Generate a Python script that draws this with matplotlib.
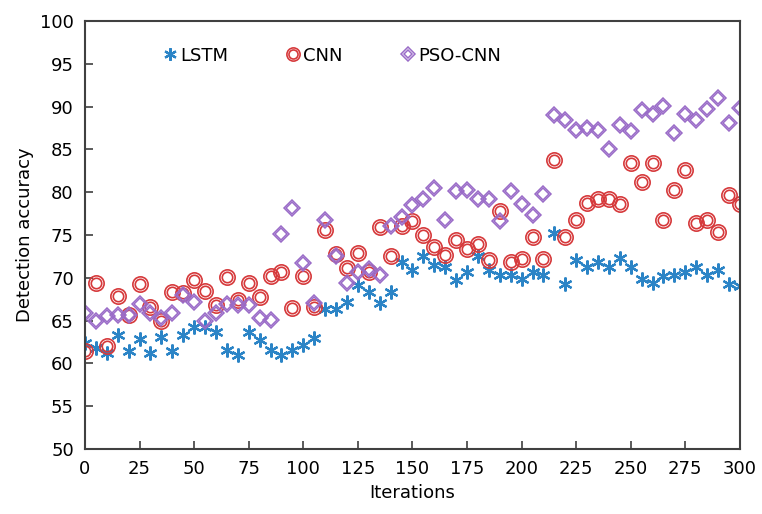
import numpy as np
import matplotlib
matplotlib.use("Agg")
from matplotlib import pyplot as plt
from matplotlib.lines import Line2D

iterations = np.arange(0, 301, 5)

lstm = [62.4, 61.8, 61.2, 63.3, 61.4, 62.9, 61.2, 63.1, 61.4, 63.3,
        64.3, 64.3, 63.7, 61.6, 61.0, 63.7, 62.7, 61.6, 61.0, 61.6,
        62.1, 63.0, 66.4, 66.4, 67.2, 69.2, 68.3, 67.0, 68.3, 71.9,
        70.9, 72.5, 71.5, 71.3, 69.7, 70.7, 72.5, 70.9, 70.3, 70.3,
        69.9, 70.7, 70.3, 75.2, 69.3, 72.1, 71.3, 71.8, 71.3, 72.3,
        71.3, 69.9, 69.4, 70.2, 70.3, 70.7, 71.3, 70.3, 70.9, 69.3,
        69.0]

cnn = [61.4, 69.4, 62.0, 67.9, 65.7, 69.3, 66.6, 65.0, 68.4, 68.2,
       69.8, 68.5, 66.8, 70.1, 67.4, 69.4, 67.8, 70.2, 70.7, 66.5,
       70.2, 66.6, 75.6, 72.8, 71.1, 72.9, 70.7, 75.9, 72.5, 76.0,
       76.6, 75.0, 73.6, 72.7, 74.4, 73.4, 74.0, 72.1, 77.8, 71.9,
       72.2, 74.8, 72.2, 83.8, 74.8, 76.8, 78.8, 79.2, 79.2, 78.6,
       83.4, 81.2, 83.4, 76.7, 80.3, 82.6, 76.4, 76.8, 75.4, 79.7,
       78.6]

pso_cnn = [65.9, 65.0, 65.5, 65.7, 65.7, 66.9, 65.9, 65.3, 65.9, 68.0,
           67.2, 65.0, 65.9, 66.9, 66.8, 66.8, 65.3, 65.1, 75.1, 78.2,
           71.7, 67.0, 76.8, 72.5, 69.4, 70.7, 71.0, 70.3, 76.0, 77.1,
           78.5, 79.2, 80.5, 76.8, 80.2, 80.3, 79.2, 79.2, 76.6, 80.1,
           78.6, 77.3, 79.8, 89.0, 88.4, 87.3, 87.5, 87.3, 85.0, 87.9,
           87.1, 89.6, 89.2, 90.1, 86.9, 89.2, 88.4, 89.7, 91.0, 88.1,
           89.9]

blue = "#2b84c6"
red = "#d6393b"
purple = "#9a6cc8"

plt.rcParams["font.family"] = "DejaVu Sans"
fig = plt.figure(figsize=(7.62, 5.14), dpi=100)
ax = fig.add_axes([0.1115, 0.1265, 0.8595, 0.8325])

ast = (6, 2, 0)
ax.plot(iterations, lstm, ls="none", marker=ast, ms=10, mew=1.6,
        mec=blue, mfc="none")
ax.plot(iterations, cnn, ls="none", marker="o", ms=11, mew=1.2,
        mec=red, mfc="none")
ax.plot(iterations, cnn, ls="none", marker="o", ms=7.5, mew=1.2,
        mec=red, mfc="none")
ax.plot(iterations, pso_cnn, ls="none", marker="D", ms=8.5, mew=1.1,
        mec=purple, mfc="none")
ax.plot(iterations, pso_cnn, ls="none", marker="D", ms=5.8, mew=1.1,
        mec=purple, mfc="none")

# legend markers are a bit smaller than the plotted ones
h1 = Line2D([], [], ls="none", marker=ast, ms=9, mew=1.6, mec=blue, mfc="none")
h2 = (Line2D([], [], ls="none", marker="o", ms=9.5, mew=1.2, mec=red, mfc="none"),
      Line2D([], [], ls="none", marker="o", ms=6.5, mew=1.2, mec=red, mfc="none"))
h3 = (Line2D([], [], ls="none", marker="D", ms=7, mew=1.1, mec=purple, mfc="none"),
      Line2D([], [], ls="none", marker="D", ms=4.5, mew=1.1, mec=purple, mfc="none"))
ax.legend([h1, h2, h3], ["LSTM", "CNN", "PSO-CNN"], ncol=3, frameon=False,
          loc="upper left", bbox_to_anchor=(0.092, 0.978), fontsize=13,
          handletextpad=0.05, columnspacing=3.1, handlelength=1.0)

ax.set_xlim(0, 300)
ax.set_ylim(50, 100)
ax.set_xticks(np.arange(0, 301, 25))
ax.set_yticks(np.arange(50, 101, 5))
ax.tick_params(axis="both", direction="in", length=6, width=1.2, labelsize=13,
               pad=8, color="#404040")
for s in ax.spines.values():
    s.set_color("#404040")
    s.set_linewidth(1.5)

ax.set_xlabel("Iterations", fontsize=13)
ax.set_ylabel("Detection accuracy", fontsize=13)

plt.savefig("out.png", dpi=100)
